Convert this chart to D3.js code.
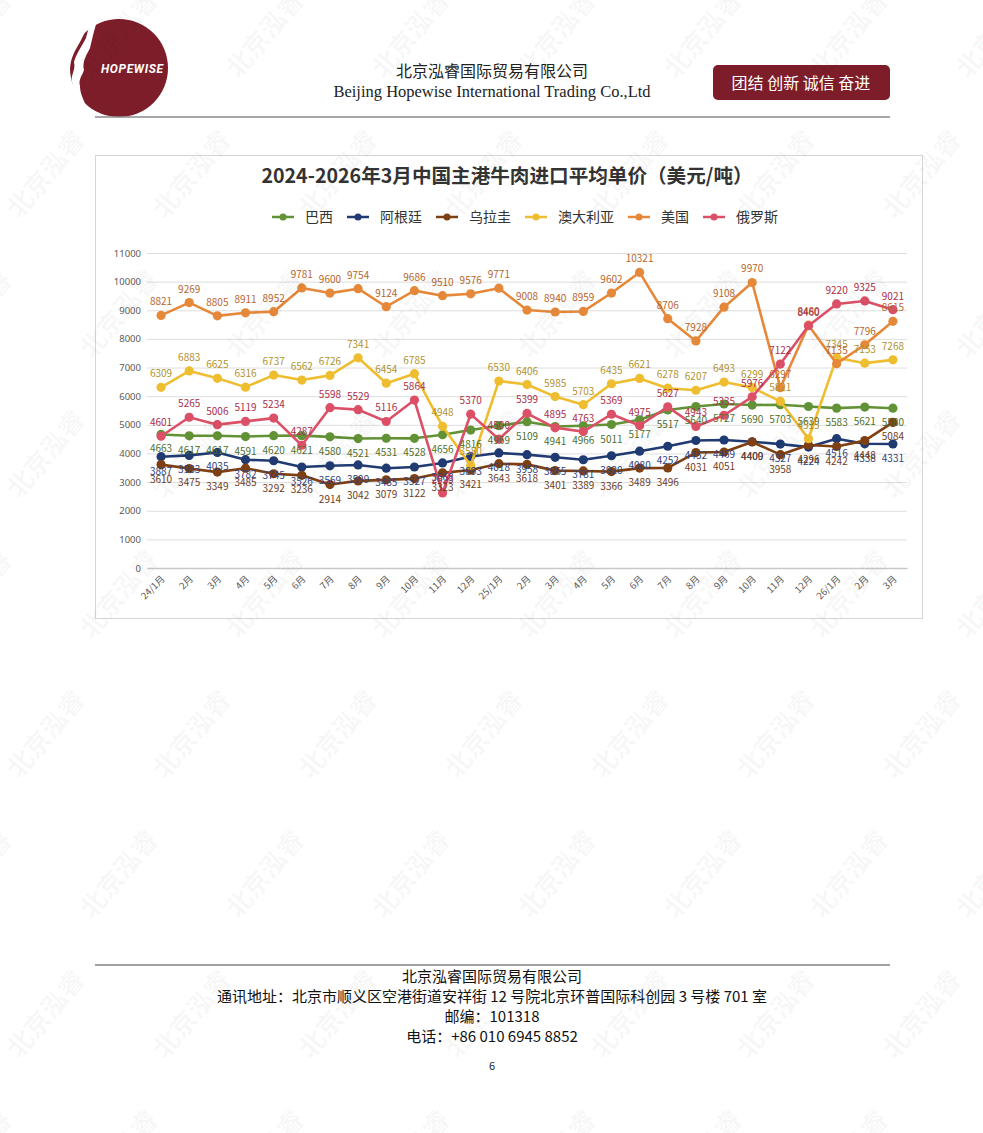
<!DOCTYPE html>
<html lang="zh">
<head>
<meta charset="UTF-8">
<script src="https://cdn.jsdelivr.net/npm/d3@7"></script>
<title>牛肉进口平均单价</title>
<style>
  html, body { margin: 0; padding: 0; background: #fff; }
  svg text { font-family: 'Noto Sans CJK SC', 'Noto Sans', sans-serif; }
</style>
</head>
<body>
<svg id="page"></svg>
<script>
// months on the x axis
let months = ['24/1月','2月','3月','4月','5月','6月','7月','8月','9月','10月','11月','12月',
              '25/1月','2月','3月','4月','5月','6月','7月','8月','9月','10月','11月','12月',
              '26/1月','2月','3月']

let brazil    = [4663,4617,4617,4591,4620,4621,4580,4521,4531,4528,4656,4816,4969,5109,4941,4966,5011,5177,5517,5640,5727,5690,5703,5639,5583,5621,5580]
let argentina = [3887,3933,4035,3782,3745,3526,3569,3599,3485,3527,3668,3893,4018,3958,3865,3781,3920,4080,4252,4452,4469,4409,4327,4224,4516,4338,4331]
let uruguay   = [3610,3475,3349,3485,3292,3236,2914,3042,3079,3122,3323,3421,3643,3618,3401,3389,3366,3489,3496,4031,4051,4400,3958,4296,4242,4448,5084]
let australia = [6309,6883,6625,6316,6737,6562,6726,7341,6454,6785,4948,3580,6530,6406,5985,5703,6435,6621,6278,6207,6493,6299,5821,4515,7345,7153,7268]
let usa       = [8821,9269,8805,8911,8952,9781,9600,9754,9124,9686,9510,9576,9771,9008,8940,8959,9602,10321,8706,7928,9108,9970,6297,8480,7135,7796,8615]
let russia    = [4601,5265,5006,5119,5234,4287,5598,5529,5116,5864,2623,5370,4500,5399,4895,4763,5369,4975,5627,4943,5335,5976,7122,8460,9220,9325,9021]

let yTicks = [0,1000,2000,3000,4000,5000,6000,7000,8000,9000,10000,11000]

let series = [
    {name: '巴西',     values: brazil,    color: '#629236', label: '#4f6f2b', above: false},
    {name: '阿根廷',   values: argentina, color: '#203a72', label: '#2f437e', above: false},
    {name: '乌拉圭',   values: uruguay,   color: '#7e3f12', label: '#6e3c1c', above: false},
    {name: '澳大利亚', values: australia, color: '#efbd30', label: '#b0922e', above: true},
    {name: '美国',     values: usa,       color: '#e6883a', label: '#b8652c', above: true},
    {name: '俄罗斯',   values: russia,    color: '#dc5067', label: '#ad2d47', above: true}
]

let width = 983
let height = 1133

let svg = d3.select('#page')
    .attr('width', width)
    .attr('height', height)

// ---------- header ----------
let drawHeader = () => {
    let logo = svg.append('g')
    logo.append('circle')
        .attr('cx', 119).attr('cy', 68).attr('r', 49)
        .attr('fill', '#7c1d29')
    // white profile band on the left side of the logo
    logo.append('path')
        .attr('d', 'M98,18 C94,30 92,40 90,48 C86,56 82,62 84,70 C82,76 78,80 80,86 C80,94 84,100 86,106 C88,112 92,116 96,120 ' +
                   'L88,120 C82,114 78,108 76,102 C72,94 74,88 72,82 C70,76 76,70 74,62 C76,54 82,46 86,38 C88,30 90,24 92,18 Z')
        .attr('fill', '#fff')
    logo.append('path')
        .attr('d', 'M60,18 L92,18 C88,26 84,34 80,42 C74,52 70,60 70,70 C66,80 68,92 72,102 C76,110 80,116 86,122 L60,122 Z')
        .attr('fill', '#fff')
    logo.append('text')
        .attr('x', 132).attr('y', 73)
        .attr('text-anchor', 'middle')
        .attr('fill', '#fff')
        .style('font-family', 'Roboto, sans-serif')
        .style('font-weight', 'bold')
        .style('font-style', 'italic')
        .style('font-size', '12px')
        .attr('textLength', 62)
        .text('HOPEWISE')

    svg.append('text')
        .attr('x', 492).attr('y', 77)
        .attr('text-anchor', 'middle')
        .attr('fill', '#222')
        .style('font-size', '16px')
        .text('北京泓睿国际贸易有限公司')
    svg.append('text')
        .attr('x', 492).attr('y', 97)
        .attr('text-anchor', 'middle')
        .attr('fill', '#222')
        .style('font-family', "'Liberation Serif', serif")
        .style('font-size', '16.5px')
        .text('Beijing Hopewise International Trading Co.,Ltd')

    svg.append('rect')
        .attr('x', 713).attr('y', 65).attr('width', 177).attr('height', 35)
        .attr('rx', 5)
        .attr('fill', '#7c1d29')
    svg.append('text')
        .attr('x', 801).attr('y', 89)
        .attr('text-anchor', 'middle')
        .attr('fill', '#fff')
        .style('font-size', '16px')
        .text('团结 创新 诚信 奋进')

    svg.append('line')
        .attr('x1', 95).attr('x2', 890).attr('y1', 117).attr('y2', 117)
        .attr('stroke', '#8a8a8a').attr('stroke-width', 1.5)
}

// ---------- footer ----------
let drawFooter = () => {
    svg.append('line')
        .attr('x1', 95).attr('x2', 890).attr('y1', 965).attr('y2', 965)
        .attr('stroke', '#444').attr('stroke-width', 1)
    let lines = ['北京泓睿国际贸易有限公司',
                 '通讯地址：北京市顺义区空港街道安祥街 12 号院北京环普国际科创园 3 号楼 701 室',
                 '邮编：101318',
                 '电话：+86 010 6945 8852']
    svg.selectAll('.foot')
        .data(lines)
        .enter()
        .append('text')
        .attr('class', 'foot')
        .attr('x', 492)
        .attr('y', (d, i) => 982 + i * 20)
        .attr('text-anchor', 'middle')
        .attr('fill', '#111')
        .style('font-size', '15px')
        .text(d => d)
    svg.append('text')
        .attr('x', 492).attr('y', 1070)
        .attr('text-anchor', 'middle')
        .attr('fill', '#222')
        .style('font-size', '11px')
        .text('6')
}

// ---------- chart ----------
let plotLeft = 147
let plotRight = 907
let plotTop = 253
let plotBottom = 568

let xScale = d3.scaleBand()
    .domain(d3.range(months.length))
    .range([plotLeft, plotRight])

let yScale = d3.scaleLinear()
    .domain([0, 11000])
    .range([plotBottom, plotTop])

let cx = (i) => xScale(i) + xScale.bandwidth() / 2

let drawChart = () => {
    svg.append('rect')
        .attr('x', 95.5).attr('y', 155.5).attr('width', 827).attr('height', 463)
        .attr('fill', 'none')
        .attr('stroke', '#d6d6d6')

    svg.append('text')
        .attr('x', 507).attr('y', 183)
        .attr('text-anchor', 'middle')
        .attr('fill', '#333')
        .style('font-size', '19.6px')
        .style('font-weight', 'bold')
        .text('2024-2026年3月中国主港牛肉进口平均单价（美元/吨）')

    // legend
    let lx = 272
    series.forEach((s) => {
        let g = svg.append('g').attr('transform', 'translate(' + lx + ', 217)')
        g.append('line').attr('x1', 0).attr('x2', 22).attr('y1', 0).attr('y2', 0)
            .attr('stroke', s.color).attr('stroke-width', 2.5)
        g.append('circle').attr('cx', 11).attr('cy', 0).attr('r', 3.5).attr('fill', s.color)
        let t = g.append('text')
            .attr('x', 33).attr('y', 5)
            .attr('fill', '#333')
            .style('font-size', '14px')
            .text(s.name)
        lx += 33 + t.node().getComputedTextLength() + 14
    })

    // y axis + grid
    let yAxis = d3.axisLeft(yScale)
        .tickValues(yTicks)
        .tickFormat(d3.format('d'))
        .tickSize(-(plotRight - plotLeft))
        .tickPadding(6)
    let yg = svg.append('g')
        .attr('transform', 'translate(' + plotLeft + ', 0)')
        .call(yAxis)
    yg.select('.domain').remove()
    yg.selectAll('.tick line').attr('stroke', '#dedede').attr('stroke-width', 1)
    yg.selectAll('.tick text')
        .attr('fill', '#595959')
        .style('font-size', '9.5px')
        .style('font-family', "'Noto Sans', sans-serif")

    // x axis
    let xAxis = d3.axisBottom(xScale)
        .tickFormat(i => months[i])
        .tickSize(0)
    let xg = svg.append('g')
        .attr('transform', 'translate(0, ' + plotBottom + ')')
        .call(xAxis)
    xg.select('.domain').attr('stroke', '#c8c8c8').attr('stroke-width', 1.5)
    xg.selectAll('.tick text')
        .attr('fill', '#595959')
        .style('font-size', '9.5px')
        .attr('text-anchor', 'end')
        .attr('transform', 'translate(-1, 6) rotate(-45)')
        .attr('dy', '0.5em')

    // lines and points
    let line = d3.line()
        .x((d, i) => cx(i))
        .y(d => yScale(d))

    series.forEach((s) => {
        svg.append('path')
            .datum(s.values)
            .attr('fill', 'none')
            .attr('stroke', s.color)
            .attr('stroke-width', 2.6)
            .attr('stroke-linejoin', 'round')
            .attr('d', line)
        svg.selectAll(null)
            .data(s.values)
            .enter()
            .append('circle')
            .attr('cx', (d, i) => cx(i))
            .attr('cy', d => yScale(d))
            .attr('r', 4.6)
            .attr('fill', s.color)
    })

    // data labels on top
    series.forEach((s) => {
        svg.selectAll(null)
            .data(s.values)
            .enter()
            .append('text')
            .attr('x', (d, i) => cx(i))
            .attr('y', d => yScale(d) + (s.above ? -10 : 18))
            .attr('text-anchor', 'middle')
            .attr('fill', s.label)
            .style('font-size', '10px')
            .text(d => d)
    })
}

// ---------- faint watermark ----------
let drawWatermark = () => {
    let marks = []
    for (let r = 0; r < 9; r++) {
        for (let c = 0; c < 8; c++) {
            marks.push([c * 146 + (r % 2) * 73 - 20, r * 140 + 40])
        }
    }
    svg.selectAll('.wm')
        .data(marks)
        .enter()
        .append('text')
        .attr('class', 'wm')
        .attr('transform', d => 'translate(' + d[0] + ',' + d[1] + ') rotate(-50)')
        .attr('text-anchor', 'middle')
        .attr('fill', '#000')
        .attr('fill-opacity', 0.045)
        .style('font-size', '26px')
        .style('font-weight', 'bold')
        .text('北京泓睿')
}

drawHeader()
drawChart()
drawFooter()
drawWatermark()
</script>
</body>
</html>
